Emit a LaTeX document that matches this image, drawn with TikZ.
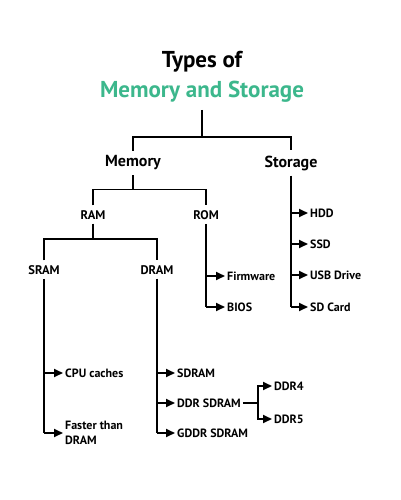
\documentclass[tikz,border=0pt]{standalone}
\usepackage{fontspec}
\setmainfont{PT Sans}
\usetikzlibrary{arrows.meta}
\definecolor{tgreen}{RGB}{60,183,140}
\tikzset{
  title/.style={font=\bfseries\fontsize{23}{26}\selectfont, inner sep=1pt},
  lone/.style={font=\bfseries\fontsize{16}{19}\selectfont, inner sep=2pt},
  ltwo/.style={font=\bfseries\fontsize{12.5}{15}\selectfont, inner sep=2pt},
  leaf/.style={font=\bfseries\fontsize{12}{15}\selectfont, anchor=west, inner sep=2pt, align=left},
  ln/.style={line width=1.8pt},
  arr/.style={line width=1.8pt, -{Triangle[length=9pt,width=8pt]}}
}
\begin{document}
\begin{tikzpicture}[x=1pt,y=-1pt]
\useasboundingbox (0,0) rectangle (400,500);
\node[title] (t1) at (202,62) {Types of};
\node[title, text=tgreen] (t2) at (202,92) {Memory and Storage};
\node[lone] (mem) at (133,163) {Memory};
\node[lone] (sto) at (291,163) {Storage};
\node[ltwo] (ram) at (93,215) {RAM};
\node[ltwo] (rom) at (206,215) {ROM};
\node[ltwo] (sram) at (44,270) {SRAM};
\node[ltwo] (dram) at (157,270) {DRAM};
\node[leaf] (hdd) at (308,213) {HDD};
\node[leaf] (ssd) at (308,244) {SSD};
\node[leaf] (usb) at (308,275) {USB Drive};
\node[leaf] (sd) at (308,307) {SD Card};
\node[leaf] (fw) at (225,276) {Firmware};
\node[leaf] (bios) at (225,307) {BIOS};
\node[leaf] (cpu) at (63,373) {CPU caches};
\node[leaf] (fast) at (63,433) {Faster than\\DRAM};
\node[leaf] (sdram) at (175,373) {SDRAM};
\node[leaf] (ddr) at (175,403) {DDR SDRAM};
\node[leaf] (gddr) at (175,433) {GDDR SDRAM};
\node[leaf] (ddr4) at (272,386) {DDR4};
\node[leaf] (ddr5) at (272,419) {DDR5};
\coordinate (fork) at (258,403);
% title to level 1
\draw[ln] ([yshift=-6pt]t2.south) -- ++(0,27) coordinate (tj);
\draw[ln] ([yshift=3pt]mem.north) |- (tj) -| ([yshift=3pt]sto.north);
% memory
\draw[ln] ([yshift=-3pt]mem.south) -- ++(0,14) coordinate (mj);
\draw[ln] ([yshift=3pt]ram.north) |- (mj) -| ([yshift=3pt]rom.north);
% ram
\draw[ln] ([yshift=-2pt]ram.south) -- ++(0,15) coordinate (rj);
\draw[ln] ([yshift=3pt]sram.north) |- (rj) -| ([yshift=3pt]dram.north);
% storage
\draw[ln] ([yshift=-3pt]sto.south) -- (sto.south |- sd.west);
\foreach \n in {hdd,ssd,usb,sd} \draw[arr] (sto.south |- \n.west) -- (\n.west);
% rom
\draw[ln] ([yshift=-2pt]rom.south) -- (rom.south |- bios.west);
\foreach \n in {fw,bios} \draw[arr] (rom.south |- \n.west) -- (\n.west);
% sram
\draw[ln] ([yshift=-2pt]sram.south) -- (sram.south |- fast.west);
\foreach \n in {cpu,fast} \draw[arr] (sram.south |- \n.west) -- (\n.west);
% dram
\draw[ln] ([yshift=-2pt]dram.south) -- (dram.south |- gddr.west);
\foreach \n in {sdram,ddr,gddr} \draw[arr] (dram.south |- \n.west) -- (\n.west);
% ddr
\draw[ln] (ddr.east) -- (fork);
\draw[arr] (fork) |- (ddr4.west);
\draw[arr] (fork) |- (ddr5.west);
\end{tikzpicture}
\end{document}
